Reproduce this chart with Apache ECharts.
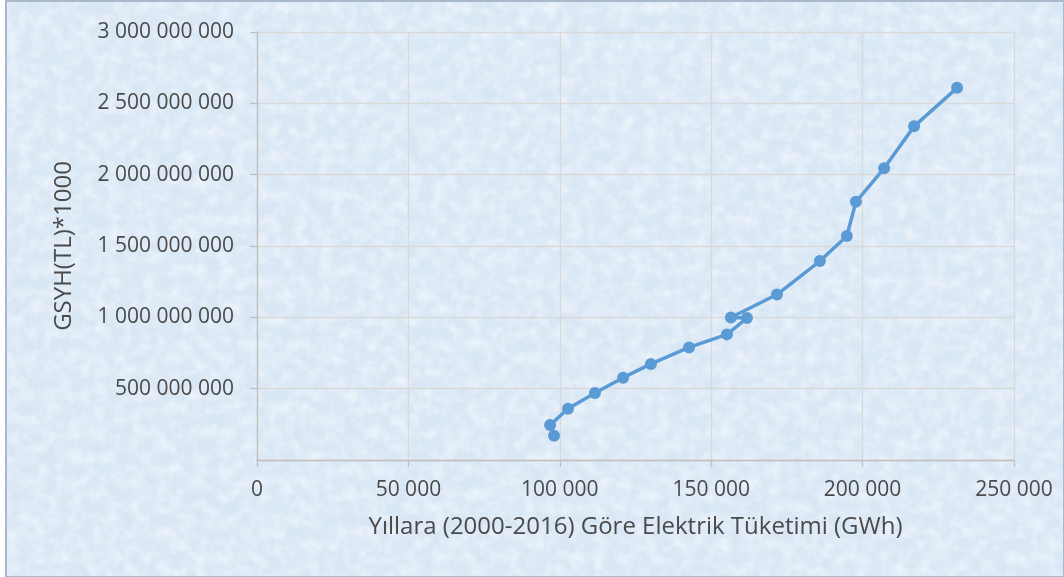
<!DOCTYPE html>
<html>
<head>
<meta charset="utf-8">
<script src="https://cdn.jsdelivr.net/npm/echarts@6/dist/echarts.min.js"></script>
<style>
  html, body { margin: 0; padding: 0; background: #ffffff; }
  #frame {
    position: absolute; left: 5px; top: 0; width: 1056px; height: 574px;
    border: 2px solid #a9b8cb;
    background-color: #d9e7f5;
    background-image: url("data:image/svg+xml,%3Csvg xmlns='http://www.w3.org/2000/svg' width='1064' height='577'%3E%3Cfilter id='a'%3E%3CfeTurbulence type='fractalNoise' baseFrequency='0.06' numOctaves='4' seed='7'/%3E%3CfeColorMatrix type='matrix' values='0 0 0 0 0.76 0 0 0 0 0.84 0 0 0 0 0.93 1.4 0 0 0 -0.62'/%3E%3C/filter%3E%3Cfilter id='b'%3E%3CfeTurbulence type='fractalNoise' baseFrequency='0.08' numOctaves='3' seed='3'/%3E%3CfeColorMatrix type='matrix' values='0 0 0 0 0.93 0 0 0 0 0.96 0 0 0 0 0.99 0 1.3 0 0 -0.52'/%3E%3C/filter%3E%3Crect width='100%25' height='100%25' filter='url(%23a)'/%3E%3Crect width='100%25' height='100%25' filter='url(%23b)'/%3E%3C/svg%3E");
  }
  #chart { position: absolute; left: 0; top: 0; width: 1064px; height: 577px; }
</style>
</head>
<body>
<div id="frame"></div>
<div id="chart"></div>
<script>
// Electricity consumption (GWh) by year, 2000-2016
const years = [2000, 2001, 2002, 2003, 2004, 2005, 2006, 2007, 2008,
               2009, 2010, 2011, 2012, 2013, 2014, 2015, 2016];
const consumptionGWh = [98100, 96800, 102700, 111600, 120900, 130100, 142700, 155200, 161800,
                        156500, 171700, 185900, 194800, 197800, 207100, 217000, 231200];
// GDP in thousand TL for the same years
const gdpThousandTL = [170000000, 245400000, 359800000, 470200000, 577000000, 673700000,
                       789200000, 880500000, 994800000, 999200000, 1160000000, 1394500000,
                       1569700000, 1809700000, 2044500000, 2338600000, 2608500000];

const xAxisTitle = 'Yıllara (2000-2016) Göre Elektrik Tüketimi (GWh)';
const yAxisTitle = 'GSYH(TL)*1000';

const points = years.map((y, i) => [consumptionGWh[i], gdpThousandTL[i]]);

const groupDigits = v => String(v).replace(/\B(?=(\d{3})+(?!\d))/g, ' ');

const FONT = '"Open Sans", sans-serif';
const TEXT = '#4a4a4a';

const chart = echarts.init(document.getElementById('chart'), null, { renderer: 'canvas' });
chart.setOption({
  animation: false,
  backgroundColor: 'transparent',
  grid: { left: 257, right: 50, top: 32, bottom: 117, containLabel: false },
  xAxis: {
    type: 'value', min: 0, max: 250000, interval: 50000,
    name: xAxisTitle, nameLocation: 'middle', nameGap: 55,
    nameTextStyle: { fontFamily: FONT, fontSize: 24, color: TEXT },
    axisLine: { show: true, lineStyle: { color: '#bfbfbf', width: 1.3 } },
    axisTick: { show: true, length: 7, lineStyle: { color: '#bfbfbf', width: 1.3 } },
    axisLabel: { margin: 20, fontFamily: FONT, fontSize: 21, color: TEXT, formatter: groupDigits },
    splitLine: { show: true, lineStyle: { color: '#d9d9d9', width: 1.3 } }
  },
  yAxis: {
    type: 'value', min: 0, max: 3000000000, interval: 500000000,
    name: yAxisTitle, nameLocation: 'middle', nameGap: 181, nameRotate: 90,
    nameTextStyle: { fontFamily: FONT, fontSize: 24, color: TEXT },
    axisLine: { show: true, lineStyle: { color: '#bfbfbf', width: 1.3 } },
    axisTick: { show: true, length: 7, lineStyle: { color: '#bfbfbf', width: 1.3 } },
    axisLabel: { margin: 23, fontFamily: FONT, fontSize: 21, color: TEXT,
                 showMinLabel: false, formatter: groupDigits },
    splitLine: { show: true, lineStyle: { color: '#d9d9d9', width: 1.3 } }
  },
  series: [{
    type: 'line',
    data: points,
    symbol: 'circle',
    symbolSize: 12,
    lineStyle: { color: '#5b9bd5', width: 3.5 },
    itemStyle: { color: '#5b9bd5' },
    z: 3
  }]
});
</script>
</body>
</html>
